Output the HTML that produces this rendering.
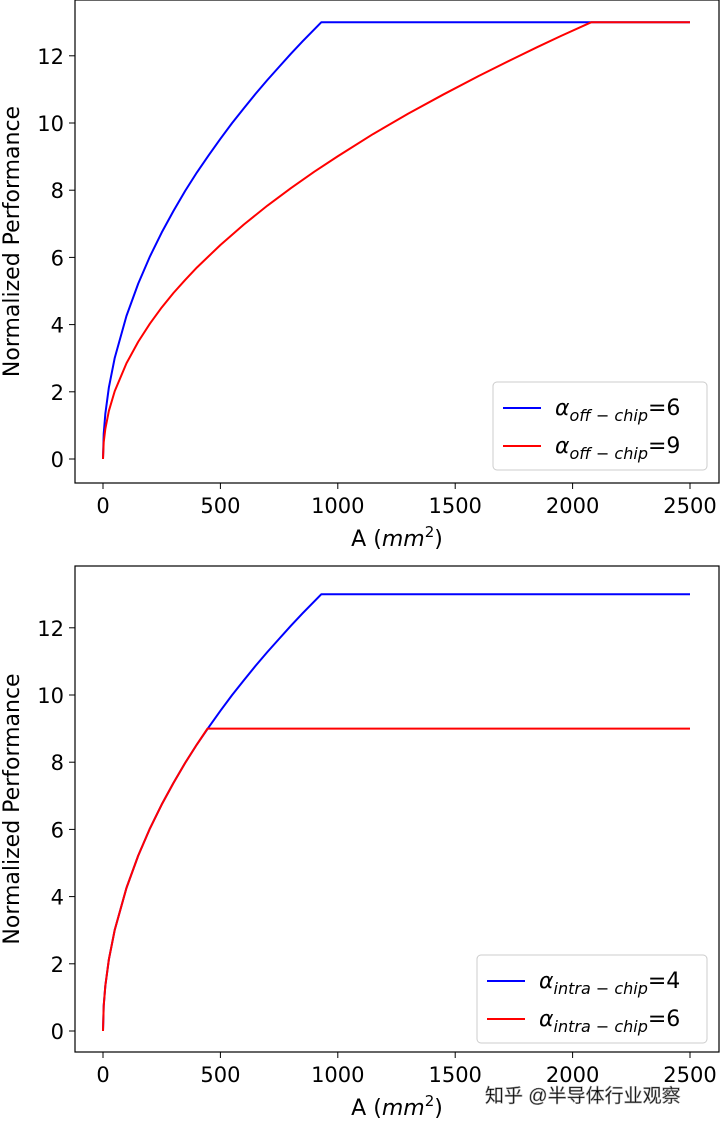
<!DOCTYPE html>
<html><head><meta charset="utf-8"><style>
body{margin:0;background:#fff;}
svg text{font-family:"DejaVu Sans","Liberation Sans",sans-serif;fill:#000;}
</style></head><body>
<svg id="c" width="720" height="1121" xmlns="http://www.w3.org/2000/svg"></svg>
<script>
const xTicks=[0,500,1000,1500,2000,2500];
const yTicks=[0,2,4,6,8,10,12];
const blueA=[0,3,10,25,50,100,150,200,250,300,350,400,450,500,550,600,650,700,750,800,850,930,2500];
const blueP=[0,0.75,1.35,2.13,3.01,4.26,5.22,6.03,6.74,7.38,7.98,8.53,9.04,9.53,10.0,10.44,10.87,11.28,11.67,12.06,12.43,13,13];
const redA=[0,3,10,25,50,100,150,200,250,300,350,400,500,600,700,800,900,1000,1150,1300,1450,1600,1750,1850,1950,2080,2500];
const redP=[0,0.5,0.9,1.43,2.02,2.85,3.49,4.03,4.51,4.94,5.33,5.70,6.37,6.98,7.54,8.06,8.55,9.01,9.67,10.28,10.85,11.40,11.92,12.26,12.59,13,13];
const red2A=[0,3,10,25,50,100,150,200,250,300,350,400,445,2500];
const red2P=[0,0.75,1.35,2.13,3.01,4.26,5.22,6.03,6.74,7.38,7.98,8.53,9,9];
const svg=document.getElementById('c');const NS='http://www.w3.org/2000/svg';
function el(t,a,p){const e=document.createElementNS(NS,t);for(const k in a)e.setAttribute(k,a[k]);(p||svg).appendChild(e);return e;}
function panel(top,bottom,y0,name,series,leg){
  const g=el('g',{});
  
  
  const xs=a=>103+a*(690-103)/2500, ys=v=>y0-v*33.6;
  const fr=el('rect',{x:75,y:top,width:644,height:bottom-top,fill:'none',stroke:'#000','stroke-width':1.2},g);
  
  
  xTicks.forEach(t=>{el('line',{x1:xs(t),x2:xs(t),y1:bottom,y2:bottom+6,stroke:'#000'},g);
    const tx=el('text',{x:xs(t),y:bottom+30,'text-anchor':'middle','font-size':21},g);tx.textContent=t;
    
    });
  yTicks.forEach(t=>{el('line',{x1:69,x2:75,y1:ys(t),y2:ys(t),stroke:'#000'},g);
    const tx=el('text',{x:64,y:ys(t)+8,'text-anchor':'end','font-size':21},g);tx.textContent=t;
    
    });
  const xl=el('text',{x:397,y:bottom+63,'text-anchor':'middle','font-size':22},g);
  xl.innerHTML='A (<tspan font-style="italic">mm</tspan><tspan dy="-9" font-size="15">2</tspan><tspan dy="9">)</tspan>';
  
  
  const yl=el('text',{x:0,y:0,'text-anchor':'middle','font-size':22,transform:`translate(19,${(top+bottom)/2}) rotate(-90)`},g);
  yl.textContent='Normalized Performance';
  
  
  series.forEach(s=>{const p=el('polyline',{points:s.a.map((a,i)=>xs(a)+','+ys(s.p[i])).join(' '),fill:'none',stroke:s.c,'stroke-width':2,'stroke-linejoin':'round'},g);
    
    });
  const lg=el('g',{},g);
  
  
  el('rect',{x:leg.x,y:leg.y,width:leg.w,height:88,rx:4,fill:'#fff',stroke:'#ccc'},lg);
  leg.items.forEach((it,i)=>{const yy=leg.y+26+i*38;
    el('line',{x1:leg.x+10,x2:leg.x+48,y1:yy,y2:yy,stroke:it.c,'stroke-width':2},lg);
    const t=el('text',{x:leg.x+62,y:yy+7,'font-size':22},lg);
    t.innerHTML=`<tspan font-style="italic">α</tspan><tspan dy="6" font-size="16" font-style="italic">${it.sub}</tspan><tspan dy="-6">=${it.v}</tspan>`;
    
    });
}
panel(0,483,459,'top-chart',[{a:blueA,p:blueP,c:'#0000ff',n:'line-offchip-6'},{a:redA,p:redP,c:'#ff0000',n:'line-offchip-9'}],
 {x:493,y:382,w:214,items:[{c:'#0000ff',sub:'off − chip',v:6},{c:'#ff0000',sub:'off − chip',v:9}]});
panel(566,1052,1031,'bottom-chart',[{a:blueA,p:blueP,c:'#0000ff',n:'line-intrachip-4'},{a:red2A,p:red2P,c:'#ff0000',n:'line-intrachip-6'}],
 {x:477,y:955,w:230,items:[{c:'#0000ff',sub:'intra − chip',v:4},{c:'#ff0000',sub:'intra − chip',v:6}]});
const wm=el('text',{x:485,y:1102,'font-size':19,fill:'#fff',stroke:'#999','stroke-width':0.6,style:'font-family:"Liberation Sans","Noto Sans CJK SC",sans-serif'});
wm.textContent='知乎 @半导体行业观察';


</script>
</body></html>
